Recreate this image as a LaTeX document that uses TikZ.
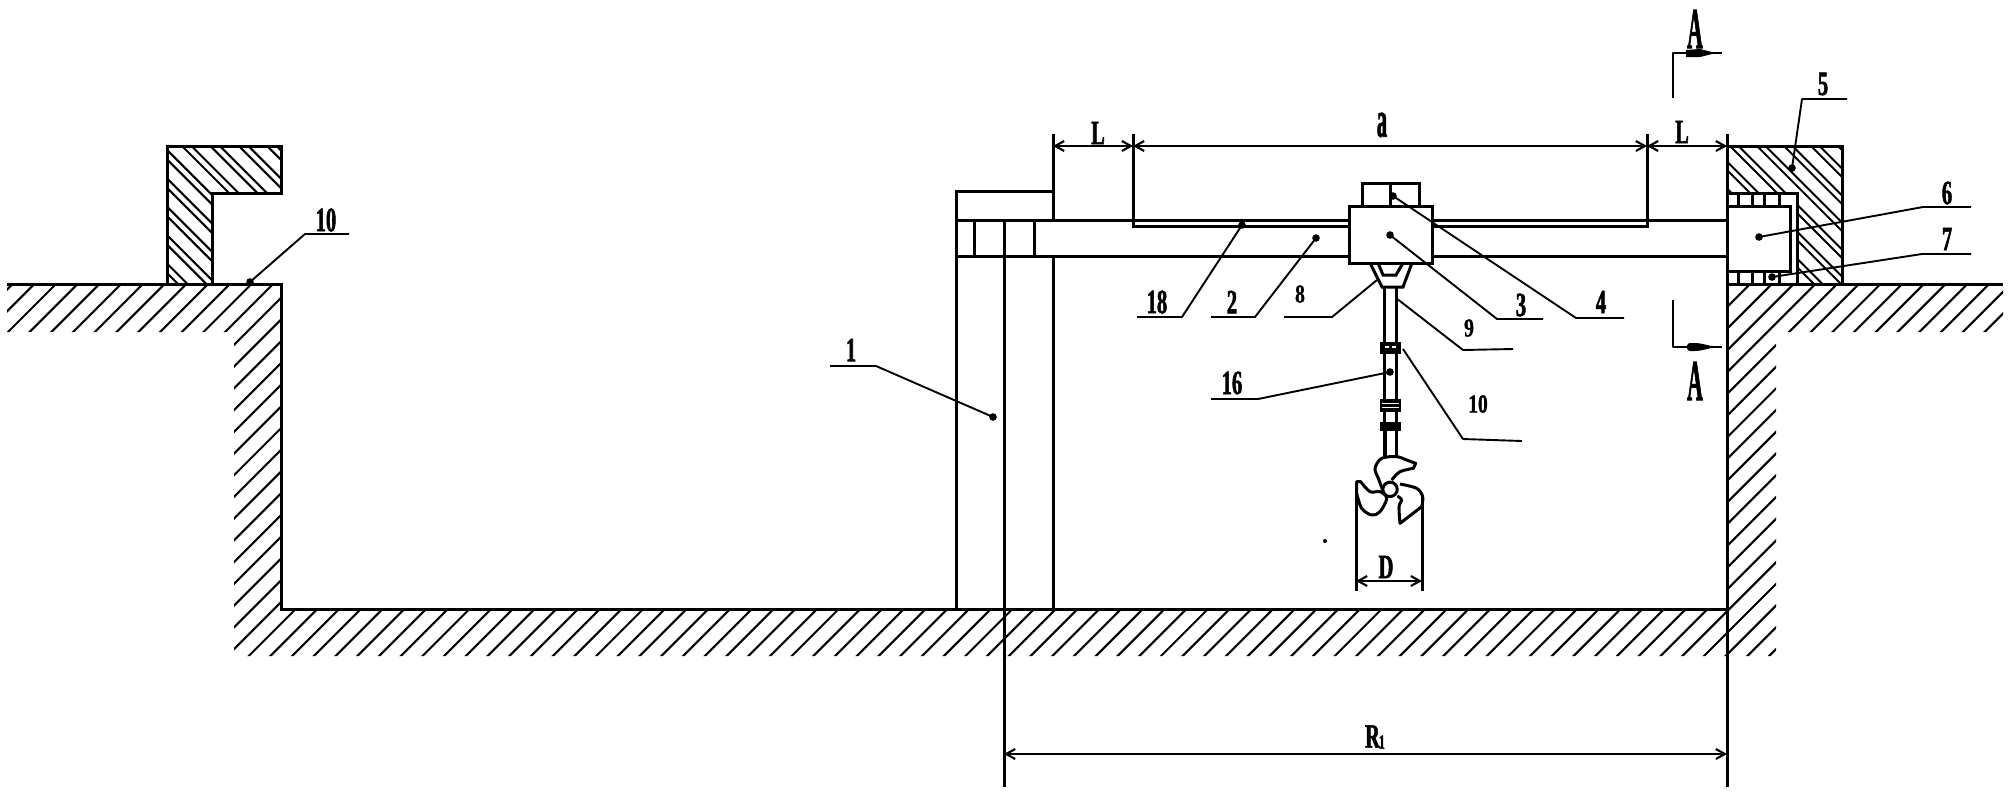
\documentclass[tikz,border=0pt]{standalone}
\usepackage{fontspec}
\usepackage{graphicx}
\setmainfont{Liberation Serif}
\newfontfamily\bigf[FakeStretch=0.6,FakeBold=1.6]{Liberation Serif Bold}
\newfontfamily\smallf[FakeStretch=0.75,FakeBold=1.0]{Liberation Serif Bold}
\usetikzlibrary{arrows.meta}
\tikzset{
  thickl/.style={line width=1.5pt,line cap=butt},
  leaderl/.style={line width=0.95pt,line join=round},
  hatchl/.style={line width=1.05pt},
  dimen/.style={line width=1.05pt,{Straight Barb[length=4.5pt,width=5pt,line width=1.05pt]}-{Straight Barb[length=4.5pt,width=5pt,line width=1.05pt]}},
  pt/.style={circle,fill=black,inner sep=0pt,minimum size=3.8pt},
  big/.style={inner sep=0pt,font=\fontsize{17}{17}\bigf},
  lit/.style={inner sep=0pt,font=\fontsize{13}{13}\smallf},
}
\begin{document}
\begin{tikzpicture}[x=0.5pt,y=-0.5pt]
\useasboundingbox (0,0) rectangle (2009,800);
% ground hatch
\begin{scope}
\clip (7,284)--(281,284)--(281,609)--(1727,609)--(1727,284)--(2003,284)--(2003,332)--(1776,332)--(1776,656)--(234,656)--(234,332)--(7,332)--cycle;
\foreach \k in {-2,...,100}{
  \pgfmathsetmacro{\c}{340+21.72*\k}
  \draw[hatchl] (\c-270,270) -- (\c-700,700);
}
\end{scope}
% left block hatch
\begin{scope}
\clip (167,146)--(281,146)--(281,193)--(212,193)--(212,284)--(167,284)--cycle;
\foreach \k in {-5,...,3}{
  \pgfmathsetmacro{\c}{36+28.4*\k}
  \draw[hatchl] (\c+100,100) -- (\c+300,300);
  \draw[hatchl] (\c+109.5,100) -- (\c+309.5,300);
}
\end{scope}
% right block hatch
\begin{scope}
\clip (1727,146)--(1842,146)--(1842,284)--(1797,284)--(1797,193)--(1727,193)--cycle;
\foreach \k in {-4,...,3}{
  \pgfmathsetmacro{\c}{1611+27*\k}
  \draw[hatchl] (\c+100,100) -- (\c+300,300);
  \draw[hatchl] (\c+108.5,100) -- (\c+308.5,300);
}
\end{scope}
% pit and ground outline
\draw[thickl] (7,284) -- (281,284) -- (281,609) -- (1727,609) -- (1727,284) -- (2003,284);
\draw[thickl] (167,284) -- (167,146) -- (281,146) -- (281,193) -- (212,193) -- (212,284);
\draw[thickl] (1727,134) -- (1727,284);
\draw[thickl] (1727,146) -- (1842,146) -- (1842,284);
\draw[thickl] (1727,193) -- (1797,193) -- (1797,284);
% carriage on right
\draw[thickl] (1727,206) rectangle (1790,271);
\foreach \xx in {1738,1752,1764,1779}{
  \draw[thickl] (\xx,193) -- (\xx,206);
  \draw[thickl] (\xx,271) -- (\xx,284);
}
% column and beam
\draw[thickl] (956,609) -- (956,191) -- (1053,191);
\draw[thickl] (1053,134) -- (1053,220);
\draw[thickl] (1053,256) -- (1053,609);
\draw[thickl] (1004,220) -- (1004,787);
\draw[thickl] (974,220) -- (974,256);
\draw[thickl] (1034,220) -- (1034,256);
\draw[thickl] (956,220) -- (1349,220);
\draw[thickl] (956,256) -- (1349,256);
\draw[thickl] (1432,220) -- (1727,220);
\draw[thickl] (1432,256) -- (1727,256);
\draw[thickl] (1133,134) -- (1133,226) -- (1349,226);
\draw[thickl] (1432,226) -- (1647,226) -- (1647,134);
% trolley
\draw[thickl] (1349,206) rectangle (1432,263);
\draw[thickl] (1362,206) -- (1362,183) -- (1419,183) -- (1419,206);
\draw[thickl] (1390,183) -- (1390,206);
% bracket and shaft
\draw[thickl] (1370,263) -- (1382,287) -- (1403,287) -- (1412,263);
\draw[thickl] (1378,263) -- (1383,275) -- (1396,275) -- (1403,263);
\draw[thickl] (1384,287) -- (1384,456);
\draw[thickl] (1396,287) -- (1396,456);
\fill (1380,342) rectangle (1401,354);
\fill (1380,399) rectangle (1401,412);
\fill (1380,422) rectangle (1401,431);
\fill[white] (1385,346) rectangle (1389,348);
\fill[white] (1392,346) rectangle (1396,348);
\fill[white] (1382,403) rectangle (1399,404);
\fill[white] (1382,407) rectangle (1399,408);
\fill (1383,431) rectangle (1387,456);
% propeller
\begin{scope}[shift={(1200,300)},x=0.16667pt,y=-0.16667pt]
\draw[thickl,line join=round] plot[smooth,tension=0.55] coordinates {(548,570) (535,535) (525,505) (545,475) (590,470) (620,480) (647,490)} -- (640,505) -- plot[smooth,tension=0.55] coordinates {(640,505) (600,515) (575,540)};
\draw[thickl,line join=round] (470,580) -- (470,545) -- (482,545) -- plot[smooth,tension=0.55] coordinates {(482,545) (510,575) (540,575) (560,595) (540,635) (515,645) (485,625) (470,580)};
\draw[thickl,line join=round] plot[smooth,tension=0.55] coordinates {(600,552) (650,565) (668,590) (665,620)} -- (600,670) -- plot[smooth,tension=0.55] coordinates {(600,670) (597,620) (605,600) (592,588)};
\draw[thickl,fill=white] (570,568) circle[radius=3.6pt];
\end{scope}
\fill (1325,541) circle[radius=1pt];
% D dimension
\draw[thickl] (1356,482) -- (1356,591);
\draw[thickl] (1422,497) -- (1422,591);
\coordinate (dl) at (1356,581); \coordinate (dr) at (1422,581);
\draw[dimen] (dl) -- (dr);
% dimensions
\coordinate (l1) at (1053,146); \coordinate (l2) at (1133,146);
\coordinate (a2) at (1647,146); \coordinate (r2) at (1727,146);
\coordinate (ra) at (1004,754); \coordinate (rb) at (1727,754);
\draw[thickl] (1727,284) -- (1727,787);
\draw[dimen] (l1) -- (l2);
\draw[dimen] (l2) -- (a2);
\draw[dimen] (a2) -- (r2);
\draw[dimen] (ra) -- (rb);
\node[big] (tL1) at (1098,133) {L};
\node[big] (ta) at (1382,125) {\scalebox{1}[1.5]{a}};
\node[big] (tL2) at (1682,132) {L};
\node[big] (tR) at (1375,737) {R\hspace{-0.5pt}\raisebox{-0.5pt}{\fontsize{10}{10}\selectfont 1}};
\node[big] (tD) at (1386,567) {D};
% section marks
\draw[leaderl] (1673,98) -- (1673,53) -- (1722,53);
\draw[leaderl] (1673,300) -- (1673,347) -- (1722,347);
\fill (1686,50) -- (1700,49) -- (1712,52) -- (1722,53) -- (1712,54) -- (1700,57) -- (1686,57) -- cycle;
\fill[rounded corners=1.5pt] (1687,343) -- (1698,343) -- (1712,346) -- (1712,348) -- (1698,351) -- (1687,351) -- cycle;
\node[big] (tA1) at (1695,29) {\scalebox{1.05}[1.7]{A}};
\node[big] (tA2) at (1695,381) {\scalebox{1.05}[1.7]{A}};
% leaders
\node[pt] (d1) at (993,417) {}; \coordinate (k1) at (876,366); \coordinate (e1) at (830,366);
\draw[leaderl] (d1.center) -- (k1) -- (e1);
\node[big] (t1) at (851,350) {1};
\node[pt] (d10a) at (250,282) {}; \coordinate (k10a) at (305,234); \coordinate (e10a) at (349,234);
\draw[leaderl] (d10a.center) -- (k10a) -- (e10a);
\node[big] (t10a) at (326,220) {10};
\node[pt] (d18) at (1242,225) {}; \coordinate (k18) at (1182,317); \coordinate (e18) at (1137,317);
\draw[leaderl] (d18.center) -- (k18) -- (e18);
\node[big] (t18) at (1157,302) {18};
\node[pt] (d2) at (1316,238) {}; \coordinate (k2) at (1255,317); \coordinate (e2) at (1211,317);
\draw[leaderl] (d2.center) -- (k2) -- (e2);
\node[big] (t2) at (1232,302) {2};
\coordinate (d8) at (1377,280); \coordinate (k8) at (1332,317); \coordinate (e8) at (1284,317);
\draw[leaderl] (d8) -- (k8) -- (e8);
\node[lit] (t8) at (1300,294) {8};
\node[pt] (d16) at (1390,372) {}; \coordinate (k16) at (1258,399); \coordinate (e16) at (1211,399);
\draw[leaderl] (d16.center) -- (k16) -- (e16);
\node[big] (t16) at (1232,383) {16};
\node[pt] (d3) at (1390,235) {}; \coordinate (k3) at (1497,319); \coordinate (e3) at (1543,319);
\draw[leaderl] (d3.center) -- (k3) -- (e3);
\node[big] (t3) at (1521,305) {3};
\node[pt] (d4) at (1393,196) {}; \coordinate (k4) at (1576,318); \coordinate (e4) at (1624,318);
\draw[leaderl] (d4.center) -- (k4) -- (e4);
\node[big] (t4) at (1601,302) {4};
\coordinate (d9) at (1396,298); \coordinate (k9) at (1463,350); \coordinate (e9) at (1513,349);
\draw[leaderl] (d9) -- (k9) -- (e9);
\node[lit] (t9) at (1469,328) {9};
\coordinate (d10) at (1403,349); \coordinate (k10) at (1463,439); \coordinate (e10) at (1522,441);
\draw[leaderl] (d10) -- (k10) -- (e10);
\node[lit] (t10) at (1478,404) {10};
\node[pt] (d5) at (1792,168) {}; \coordinate (k5) at (1802,99); \coordinate (e5) at (1847,99);
\draw[leaderl] (d5.center) -- (k5) -- (e5);
\node[big] (t5) at (1823,84) {5};
\node[pt] (d6) at (1759,237) {}; \coordinate (k6) at (1923,207); \coordinate (e6) at (1971,207);
\draw[leaderl] (d6.center) -- (k6) -- (e6);
\node[big] (t6) at (1947,193) {6};
\node[pt] (d7) at (1772,277) {}; \coordinate (k7) at (1922,254); \coordinate (e7) at (1971,254);
\draw[leaderl] (d7.center) -- (k7) -- (e7);
\node[big] (t7) at (1947,239) {7};
\end{tikzpicture}
\end{document}
